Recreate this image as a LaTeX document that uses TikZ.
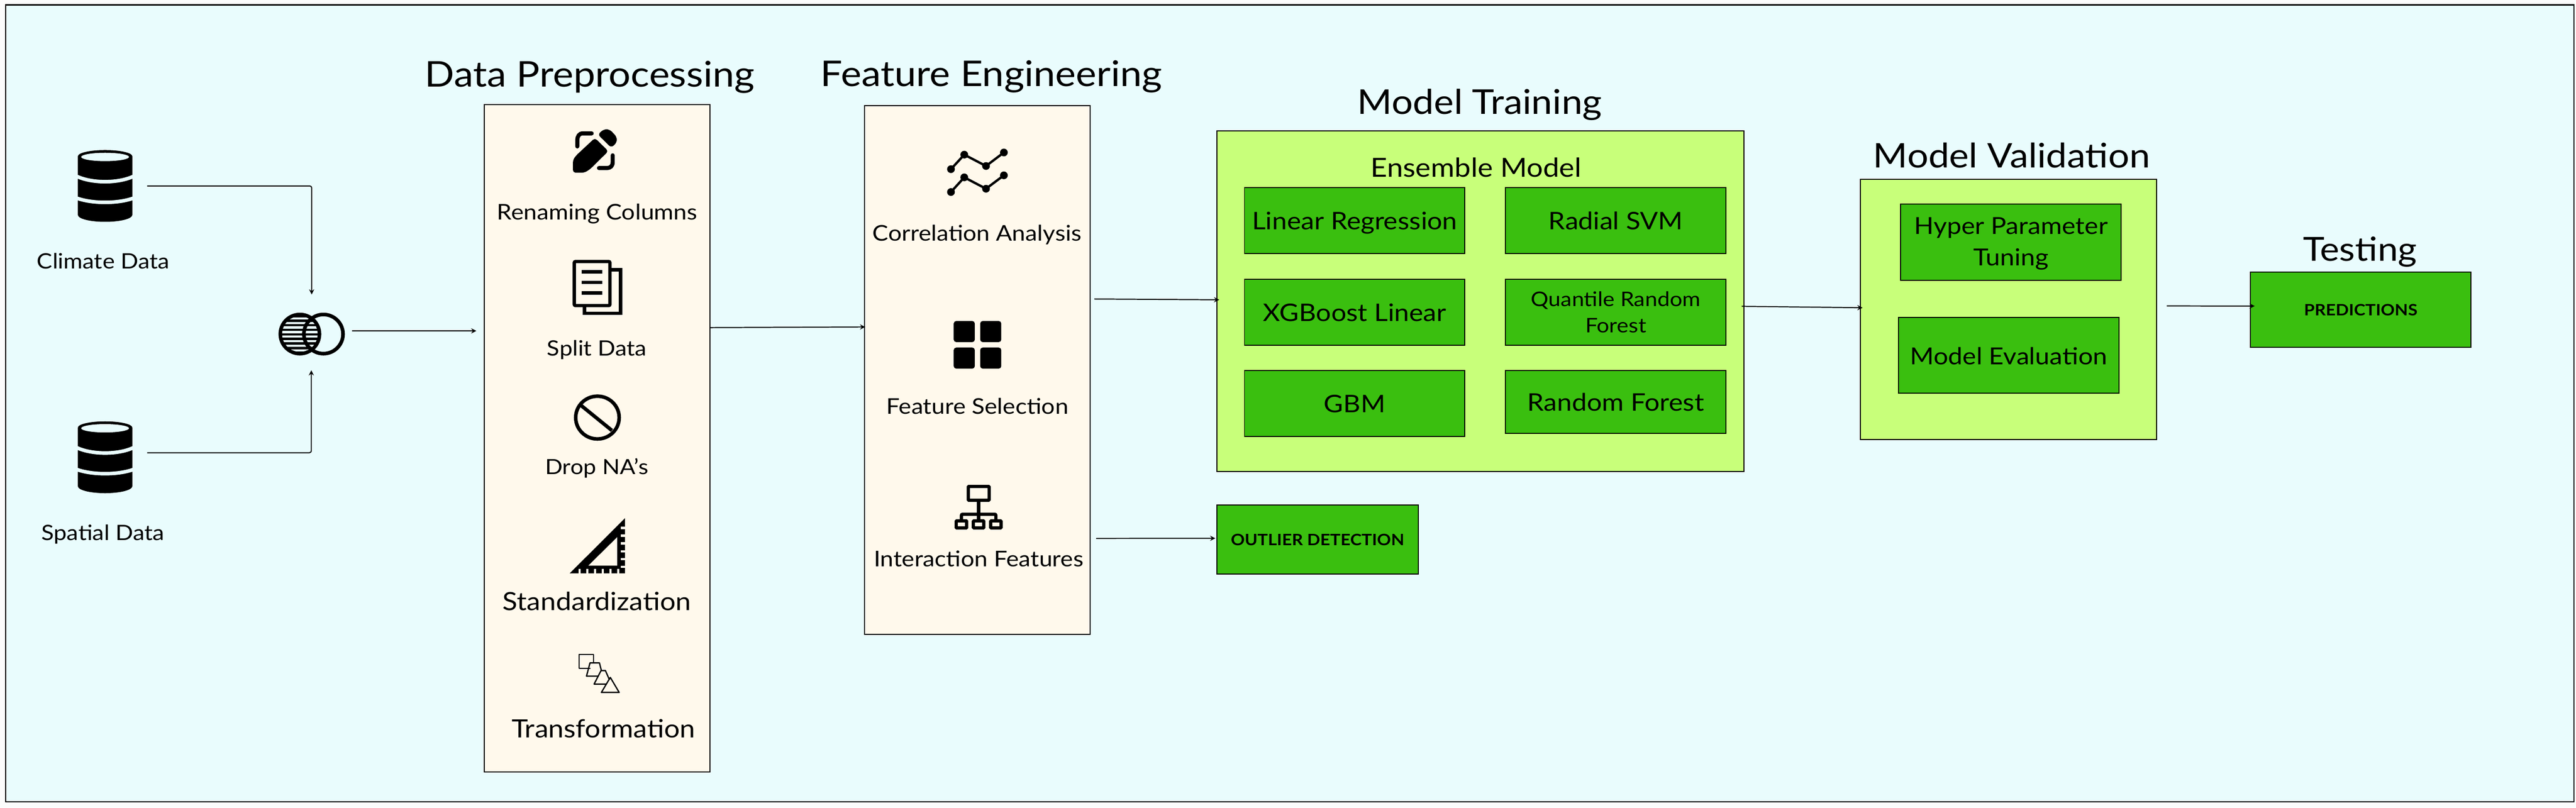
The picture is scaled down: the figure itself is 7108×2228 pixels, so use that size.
\documentclass[tikz,border=0pt]{standalone}
\usepackage{fontspec}
\setmainfont{Lato}[FakeStretch=1.1]
\usepackage{tikz}
\usetikzlibrary{positioning}

\definecolor{pagecol}{HTML}{FCFCFC}
\definecolor{skycol}{HTML}{E9FCFD}
\definecolor{creamcol}{HTML}{FFF9EC}
\definecolor{limecol}{HTML}{C8FF7A}
\definecolor{algcol}{HTML}{3ABF0F}

\tikzset{
	stagebox/.style={draw, rectangle, inner sep=0pt},
	creambox/.style={stagebox, fill=creamcol},
	limebox/.style={stagebox, fill=limecol},
	algbox/.style={stagebox, fill=algcol, minimum width=6.08cm, minimum height=1.82cm, align=center, text height=14pt, text depth=0pt, font=\fontsize{19}{24}\selectfont},
	twolines/.style={text height={}, text depth={}},
	titletext/.style={anchor=base, inner sep=0pt, font=\fontsize{27.8}{32}\selectfont},
	itemtext/.style={anchor=base, inner sep=0pt, font=\fontsize{17}{22}\selectfont},
	bigitem/.style={anchor=base, inner sep=0pt, font=\fontsize{18.4}{24}\selectfont},
	boldtext/.style={text height=9.2pt, font=\fontsize{12.3}{16}\selectfont\bfseries},
	spot/.style={inner sep=0pt},
	dbicon/.pic={
		\fill (0,-82) ellipse [x radius=75, y radius=17];
		\fill (-75,-82) rectangle (75,80);
		\fill (0,80) ellipse [x radius=75, y radius=19];
		\fill [skycol] (0,-80) ellipse [x radius=66, y radius=11.5];
		\draw [skycol, line width=2.8pt] (-77,-26) .. controls (-35,-7) and (35,-7) .. (77,-26);
		\draw [skycol, line width=2.8pt] (-77,34) .. controls (-35,49) and (35,49) .. (77,34);
	}
}

\begin{document}
\begin{tikzpicture}[x=0.01cm, y=-0.01cm, on grid, >=stealth, thick]

\useasboundingbox (0,0) rectangle (7108,2228);
\fill [pagecol] (0,0) rectangle (7108,2228);
\draw [fill=skycol, line width=1pt] (15.5,13.5) rectangle (7102,2212);

% sources
\node [spot, minimum width=2.29cm, minimum height=1.98cm] (climate) at (290,513) {};
\node [spot, minimum width=2.29cm, minimum height=1.98cm] (spatial) at (290,1261.5) {};
\node [spot, minimum width=2.2cm, minimum height=2.04cm] (venn) at (860,916) {};
\pic at (climate) {dbicon};
\pic at (spatial) {dbicon};
\node [itemtext, font=\fontsize{16.6}{22}\selectfont] (climatelab) at (285,742) {Climate Data};
\node [itemtext, font=\fontsize{16.6}{22}\selectfont] (spatiallab) at (284,1491) {Spatial Data};

% venn icon
\fill (827.5,921.6) circle [radius=59];
\begin{scope}
	\clip (827.5,921.6) circle [radius=49];
	\foreach \y in {878.3,890.9,903.5,916.1,928.7,941.3,953.9,966.5}
		\fill [skycol] (760,\y-3) rectangle (900,\y+3);
\end{scope}
\draw [line width=2.85pt] (892.5,921.6) circle [radius=54];

% boxes
\node [creambox, minimum width=6.22cm, minimum height=18.4cm] (preproc) at (1648,1209) {};
\node [creambox, minimum width=6.22cm, minimum height=14.58cm] (feat) at (2697,1021) {};
\node [limebox, minimum width=14.54cm, minimum height=9.39cm] (model) at (4085,830.5) {};
\node [limebox, minimum width=8.17cm, minimum height=7.18cm] (valid) at (5542.5,854) {};

\node [titletext] (pretitle) at (1627.5,240) {Data Preprocessing};
\node [titletext] (feattitle) at (2735.5,238) {Feature Engineering};
\node [titletext, font=\fontsize{26.8}{32}\selectfont] (modeltitle) at (4083,315) {Model Training};
\node [titletext, font=\fontsize{26.6}{32}\selectfont] (validtitle) at (5551,463) {Model Validation};
\node [titletext, font=\fontsize{26}{32}\selectfont] (testtitle) at (6512,720) {Testing};

% preprocessing items
\node [itemtext] (renamelab) at (1648,606) {Renaming Columns};
\node [itemtext, font=\fontsize{16.6}{22}\selectfont] (splitlab) at (1647,982) {Split Data};
\node [itemtext, font=\fontsize{16.4}{22}\selectfont] (droplab) at (1647,1309) {Drop NA's};
\node [bigitem, font=\fontsize{19.7}{24}\selectfont] (stdlab) at (1647,1683.4) {Standardization};
\node [bigitem, font=\fontsize{19.7}{24}\selectfont] (translab) at (1665,2035.3) {Transformation};

% pen
\fill [rounded corners=2pt] (1641.5,380.7) -- (1678.6,417) -- (1628,467) -- (1612.5,476.4) -- (1581,476.4) -- (1581,441) -- (1590,428.6) -- cycle;
\fill [rounded corners=2.5pt] (1649.5,371) -- (1666,356.5) -- (1681.7,356.5) -- (1702,377.5) -- (1702,393.5) -- (1686.6,407.5) -- cycle;
\draw [line width=3.2pt, line cap=round] (1632.6,368) -- (1608,368) .. controls (1598,368) and (1593,376) .. (1593,387) -- (1593,404);
\draw [line width=3.2pt, line cap=round] (1690.6,428.6) -- (1690.6,447.7) .. controls (1690.6,458) and (1684,463.6) .. (1675,463.6) -- (1652.7,463.6);

% pages
\draw [line width=2.6pt] (1687,744.5) -- (1712,744.5) -- (1712,864) -- (1612.5,864) -- (1612.5,847);
\draw [line width=2.6pt, rounded corners=1pt] (1584.5,721.5) rectangle (1683,843);
\foreach \y in {750,778.7,808}
	\draw [line width=2.6pt] (1605,\y) -- (1662.5,\y);

% no entry
\draw [line width=2.8pt] (1648.5,1152) ellipse [x radius=60, y radius=59];
\draw [line width=2.8pt] (1603.5,1118.6) -- (1688.4,1187.5);

% set square
\fill [even odd rule] (1572,1581.7) -- (1724.7,1429.3) -- (1724.7,1581.7) -- cycle (1623.3,1560.3) -- (1703.3,1560.3) -- (1703.3,1481.3) -- cycle;
\foreach \y in {1456.2,1477.9,1499.3,1520.9,1542.2,1563.3}
	\fill [creamcol] (1712.3,\y-3.1) rectangle (1726,\y+3.1);
\foreach \x in {1599.2,1620.5,1641.8,1663.2,1684.7,1706.3}
	\fill [creamcol] (\x-3.1,1569.3) rectangle (\x+3.1,1583);

% shapes
\draw [line width=1pt, line join=round] (1628.6,1843.6) -- (1598.2,1843.6) -- (1598.2,1805.7) -- (1638,1805.7) -- (1638,1828.6);
\draw [line width=1pt, line join=round] (1650.4,1865.4) -- (1618.3,1865.4) -- (1628,1828.6) -- (1654,1828.6) -- (1659.4,1849.9);
\draw [line width=1pt, line join=round] (1674,1887.2) -- (1639.3,1887.2) -- (1658.5,1849.9) -- (1670.5,1849.9) -- (1681.7,1875.7);
\draw [line width=1pt, line join=round] (1659.4,1910.2) -- (1684,1868.8) -- (1708.5,1910.2) -- cycle;

% feature items
\node [itemtext] (corrlab) at (2696,665) {Correlation Analysis};
\node [itemtext] (sellab) at (2697,1142) {Feature Selection};
\node [itemtext] (interlab) at (2700.5,1563) {Interaction Features};

% chart
\draw [line width=1.85pt] (2624,466.7) -- (2660.7,426.7) -- (2720.7,458) -- (2770,420.7);
\draw [line width=1.85pt] (2624,529.7) -- (2660.7,489.3) -- (2720.7,520.7) -- (2770,483.7);
\foreach \x/\y in {2624/466.7,2660.7/426.7,2720.7/458,2770/420.7,2624/529.7,2660.7/489.3,2720.7/520.7,2770/483.7}
	\fill (\x,\y) circle [radius=10.7];

% tiles
\foreach \x in {2631.6,2704.6}
	\foreach \y in {885.6,958.8}
		\fill [rounded corners=2pt] (\x,\y) rectangle (\x+58.2,\y+58.2);

% hierarchy
\draw [line width=2.56pt, rounded corners=0.5pt] (2671.8,1342) rectangle (2729.4,1380);
\draw [line width=2.56pt] (2700.3,1384) -- (2700.3,1433);
\draw [line width=2.56pt, rounded corners=1pt] (2652.8,1433) -- (2652.8,1418.7) -- (2748,1418.7) -- (2748,1433);
\foreach \x in {2634,2681.3,2729}
	\draw [line width=2.56pt, rounded corners=0.5pt] (\x+4.5,1436.8) rectangle (\x+33.3,1456.5);

% ensemble
\node [bigitem, font=\fontsize{20.6}{24}\selectfont] (enslab) at (4073,488) {Ensemble Model};
\node [algbox] (lr) at (3738,608.5) {Linear Regression};
\node [algbox, below=2.525cm of lr] (xgb) {XGBoost Linear};
\node [algbox, below=2.515cm of xgb] (gbm) {GBM};
\node [algbox, right=7.2cm of lr] (svm) {Radial SVM};
\node [algbox, below=2.525cm of svm, twolines, font=\fontsize{15.8}{20.8}\selectfont] (qrf) {Quantile Random\\Forest};
\node [algbox, below=2.475cm of qrf, minimum height=1.73cm] (rf) {Random Forest};

\node [algbox, minimum width=5.55cm, minimum height=1.9cm, boldtext] (outlier) at (3635.5,1488) {OUTLIER DETECTION};
\node [stagebox, fill=algcol, minimum width=6.07cm, minimum height=2.095cm] (hyper) at (5548.5,668.25) {};
\node [itemtext, font=\fontsize{18.4}{24.75}\selectfont] (hyperlab) at (5549,646) {Hyper Parameter};
\node [itemtext, font=\fontsize{18.4}{24.75}\selectfont] (tunelab) at (5549,733.5) {Tuning};
\node [algbox, minimum width=6.07cm, minimum height=2.09cm, font=\fontsize{18.4}{24}\selectfont] (eval) at (5542.75,980.5) {Model Evaluation};
\node [algbox, minimum width=6.08cm, minimum height=2.085cm, boldtext] (pred) at (6514,854.25) {PREDICTIONS};

% connectors
\draw [->, rounded corners=1.5pt] (climate.east) -| (venn.north);
\draw [->, rounded corners=1.5pt] ([yshift=0.125cm]spatial.east) -| ([xshift=-0.01cm, yshift=-0.02cm]venn.south);
\draw [->] ([yshift=0.03cm]venn.east) -- ([xshift=-0.21cm, yshift=2.96cm]preproc.west);
\draw [->] ([yshift=3.05cm]preproc.east) -- ([xshift=0.03cm, yshift=1.19cm]feat.west);
\draw [->] ([xshift=0.1cm, yshift=1.96cm]feat.east) -- ([xshift=0.08cm, yshift=0.035cm]model.west);
\draw [->] ([xshift=0.15cm, yshift=-4.64cm]feat.east) -- ([xshift=-0.03cm, yshift=0.03cm]outlier.west);
\draw [->] ([xshift=-0.08cm, yshift=-0.145cm]model.east) -- ([xshift=0.07cm, yshift=0.05cm]valid.west);
\draw [->] ([xshift=0.26cm, yshift=0.1cm]valid.east) -- ([xshift=0.13cm, yshift=0.1cm]pred.west);

\end{tikzpicture}
\end{document}
